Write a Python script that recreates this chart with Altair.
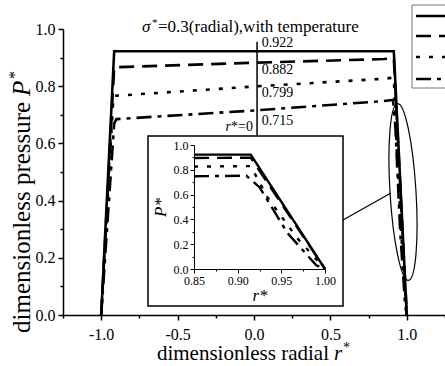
import altair as alt
import pandas as pd

FONT = "Liberation Serif"

# ---- data ----
series = ["case 1", "case 2", "case 3", "case 4"]
dashes = [[1, 0], [15, 8], [4, 9], [15, 6, 4, 6]]

r_case1 = [-1.0, -0.915, 0.0, 0.85, 0.915, 1.0]
p_case1 = [0.0, 0.922, 0.922, 0.922, 0.922, 0.0]

r_case2 = [-1.0, -0.915, 0.0, 0.85, 0.915, 1.0]
p_case2 = [0.0, 0.866, 0.882, 0.895, 0.898, 0.0]

r_case3 = [-1.0, -0.92, 0.0, 0.85, 0.915, 0.934, 0.968, 1.0]
p_case3 = [0.0, 0.766, 0.799, 0.826, 0.83, 0.58, 0.25, 0.0]

r_case4 = [-1.0, -0.915, -0.9, 0.0, 0.85, 0.91, 0.925, 0.957, 0.99, 1.0]
p_case4 = [0.0, 0.67, 0.685, 0.715, 0.748, 0.752, 0.66, 0.29, 0.03, 0.0]

center_values = ["0.922", "0.882", "0.799", "0.715"]
center_label_P = [0.951, 0.857, 0.776, 0.678]   # label placement
center_label_r = 0.05

x_ticks = [-1.25, -1.0, -0.75, -0.5, -0.25, 0.0, 0.25, 0.5, 0.75, 1.0, 1.25]
y_ticks = [0.0, 0.1, 0.2, 0.3, 0.4, 0.5, 0.6, 0.7, 0.8, 0.9, 1.0]
xin_ticks = [0.85, 0.875, 0.9, 0.925, 0.95, 0.975, 1.0]

rows = []
for name, rs, ps in zip(series, [r_case1, r_case2, r_case3, r_case4],
                        [p_case1, p_case2, p_case3, p_case4]):
    for i, (r, p) in enumerate(zip(rs, ps)):
        rows.append({"series": name, "r": r, "P": p, "idx": i})
df = pd.DataFrame(rows)

W, H = 382, 286

dash_scale = alt.Scale(domain=series, range=dashes)

# ---- main axes ----
x_axis = alt.Axis(
    values=x_ticks, title=None, grid=False, labelOverlap=False, labelFlush=False,
    labelExpr="round(datum.value*4)%2==0 ? (datum.value<0 ? '-' : '') + format(abs(datum.value), '.1f') : ''",
    tickSize={"condition": {"test": "round(datum.value*4)%2==0", "value": 5}, "value": 3},
    labelFont=FONT, labelFontSize=16, labelPadding=6, labelColor="black",
    domainColor="black", domainWidth=1.5, tickColor="black", tickWidth=1.5,
)
y_axis = alt.Axis(
    values=y_ticks, title=None, grid=False, labelOverlap=False, labelFlush=False,
    labelExpr="round(datum.value*10)%2==0 ? format(datum.value, '.1f') : ''",
    tickSize={"condition": {"test": "round(datum.value*10)%2==0", "value": 5}, "value": 3},
    labelFont=FONT, labelFontSize=16, labelPadding=3, labelColor="black",
    domainColor="black", domainWidth=1.5, tickColor="black", tickWidth=1.5,
)
xm = alt.X("r:Q", scale=alt.Scale(domain=[-1.25, 1.25], nice=False, zero=False), axis=x_axis)
ym = alt.Y("P:Q", scale=alt.Scale(domain=[0, 1], nice=False, zero=False), axis=y_axis)

lines = alt.Chart(df).mark_line(color="black", strokeWidth=2.6, strokeJoin="miter").encode(
    x=xm, y=ym,
    strokeDash=alt.StrokeDash("series:N", scale=dash_scale, legend=None),
    order="idx:Q",
)

vline = alt.Chart(pd.DataFrame({"r": [0.02], "P": [0.955], "P2": [0.626]})).mark_rule(
    color="black", strokeWidth=1.5).encode(x=xm, y=ym, y2="P2:Q")

lab_df = pd.DataFrame({"r": [center_label_r] * 4, "P": center_label_P, "t": center_values})
labels = alt.Chart(lab_df).mark_text(font=FONT, fontSize=14, align="left", baseline="middle",
                                     color="black").encode(x=xm, y=ym, text="t:N")

rz_df = pd.DataFrame({"r": [0.0], "P": [0.657]})
rz1 = alt.Chart(rz_df).mark_text(text="*=0", font=FONT, fontSize=14, align="right",
                                 baseline="middle", dx=-1, color="black").encode(x=xm, y=ym)
rz2 = alt.Chart(rz_df).mark_text(text="r", font=FONT, fontSize=14, fontStyle="italic",
                                 align="right", baseline="middle", dx=-23, color="black").encode(x=xm, y=ym)

main = alt.layer(lines, vline, labels, rz1, rz2)

# ---- inset ----
xin_axis = alt.Axis(
    values=xin_ticks, orient="bottom", offset=-46, grid=False, labelOverlap=False, labelFlush=False,
    labelExpr="round(datum.value*40)%2==0 ? format(datum.value, '.2f') : ''",
    tickSize={"condition": {"test": "round(datum.value*40)%2==0", "value": 4}, "value": 2},
    labelFont=FONT, labelFontSize=12, labelPadding=2, labelColor="black",
    domainColor="black", domainWidth=1, tickColor="black", tickWidth=1,
    title="r*", titleFont=FONT, titleFontSize=17, titleFontStyle="italic", titleFontWeight="normal",
    titleColor="black", titlePadding=1, zindex=2,
)
yin_axis = alt.Axis(
    values=y_ticks, orient="left", offset=-131, grid=False, labelOverlap=False, labelFlush=False,
    labelExpr="round(datum.value*10)%2==0 ? format(datum.value, '.1f') : ''",
    tickSize={"condition": {"test": "round(datum.value*10)%2==0", "value": 4}, "value": 2},
    labelFont=FONT, labelFontSize=12, labelPadding=2, labelColor="black",
    domainColor="black", domainWidth=1, tickColor="black", tickWidth=1,
    title="P*", titleFont=FONT, titleFontSize=17, titleFontStyle="italic", titleFontWeight="normal",
    titleColor="black", titlePadding=4, zindex=2,
)
inset = alt.Chart(df).transform_filter("datum.r >= 0.85").mark_line(
    color="black", strokeWidth=2.4, strokeJoin="miter").encode(
    x=alt.X("r:Q", scale=alt.Scale(domain=[0.85, 1.0], range=[131, 262], nice=False, zero=False), axis=xin_axis),
    y=alt.Y("P:Q", scale=alt.Scale(domain=[0, 1], range=[240, 116], nice=False, zero=False), axis=yin_axis),
    strokeDash=alt.StrokeDash("series:N", scale=dash_scale, legend=None),
    order="idx:Q",
)

one = alt.Data(values=[{}])

inset_box = alt.Chart(one).mark_rect(fill="white", stroke="black", strokeWidth=1.5).encode(
    x=alt.value(85), x2=alt.value(280), y=alt.value(107), y2=alt.value(277))

ELLIPSE = ("M0,-1 C0.0812,-1 0.147,-0.5523 0.147,0 C0.147,0.5523 0.0812,1 0,1 "
           "C-0.0812,1 -0.147,0.5523 -0.147,0 C-0.147,-0.5523 -0.0812,-1 0,-1 Z")
ellipse = alt.Chart(one).mark_point(shape=ELLIPSE, size=31329, filled=False, stroke="black",
                                    strokeWidth=1.2, angle=356.5, opacity=1).encode(
    x=alt.value(340), y=alt.value(163))
connector = alt.Chart(one).mark_rule(color="black", strokeWidth=1.2).encode(
    x=alt.value(280), x2=alt.value(328), y=alt.value(191), y2=alt.value(164))

# ---- legend (drawn) ----
legend_box = alt.Chart(one).mark_rect(fill="white", stroke="#777777", strokeWidth=1).encode(
    x=alt.value(349), x2=alt.value(430), y=alt.value(-24), y2=alt.value(59))
legend_rows = [-13, 7, 28, 50]
legend_lines = [
    alt.Chart(one).mark_rule(color="black", strokeWidth=2.6, strokeDash=d).encode(
        x=alt.value(353), x2=alt.value(400), y=alt.value(yy))
    for d, yy in zip(dashes, legend_rows)
]

# ---- titles ----
t1 = alt.Chart(one).mark_text(text="σ", font=FONT, fontSize=17, fontStyle="italic", align="left",
                              baseline="alphabetic", color="black").encode(x=alt.value(79), y=alt.value(3))
t2 = alt.Chart(one).mark_text(text="*", font=FONT, fontSize=11, align="left",
                              baseline="alphabetic", color="black").encode(x=alt.value(89), y=alt.value(-3))
t3 = alt.Chart(one).mark_text(text="=0.3(radial),with temperature", font=FONT, fontSize=17, align="left",
                              baseline="alphabetic", color="black").encode(x=alt.value(95), y=alt.value(3))

xt1 = alt.Chart(one).mark_text(text="dimensionless radial", font=FONT, fontSize=21, align="right",
                               baseline="alphabetic", color="black").encode(x=alt.value(266), y=alt.value(331))
xt2 = alt.Chart(one).mark_text(text="r", font=FONT, fontSize=21, fontStyle="italic", align="left",
                               baseline="alphabetic", color="black").encode(x=alt.value(271), y=alt.value(331))
xt3 = alt.Chart(one).mark_text(text="*", font=FONT, fontSize=14, align="left",
                               baseline="alphabetic", color="black").encode(x=alt.value(280), y=alt.value(323))

yt1 = alt.Chart(one).mark_text(text="dimensionless pressure", font=FONT, fontSize=25, align="left",
                               baseline="alphabetic", angle=270, color="black").encode(
    x=alt.value(-33), y=alt.value(304))
yt2 = alt.Chart(one).mark_text(text="P", font=FONT, fontSize=25, fontStyle="italic", align="left",
                               baseline="alphabetic", angle=270, color="black").encode(
    x=alt.value(-33), y=alt.value(67))
yt3 = alt.Chart(one).mark_text(text="*", font=FONT, fontSize=16, align="left",
                               baseline="alphabetic", angle=270, color="black").encode(
    x=alt.value(-43), y=alt.value(50))

chart = alt.layer(
    main, inset_box, inset, ellipse, connector, legend_box, *legend_lines,
    t1, t2, t3, xt1, xt2, xt3, yt1, yt2, yt3,
).resolve_scale(x="independent", y="independent").properties(
    width=W, height=H,
    autosize=alt.AutoSizeParams(type="none"),
    padding={"left": 63, "top": 29, "right": 0, "bottom": 51},
    background="white",
).configure_view(stroke=None).configure_axis(labelFont=FONT, titleFont=FONT)

chart.save("out.html", embed_options={"renderer": "svg", "actions": False})
